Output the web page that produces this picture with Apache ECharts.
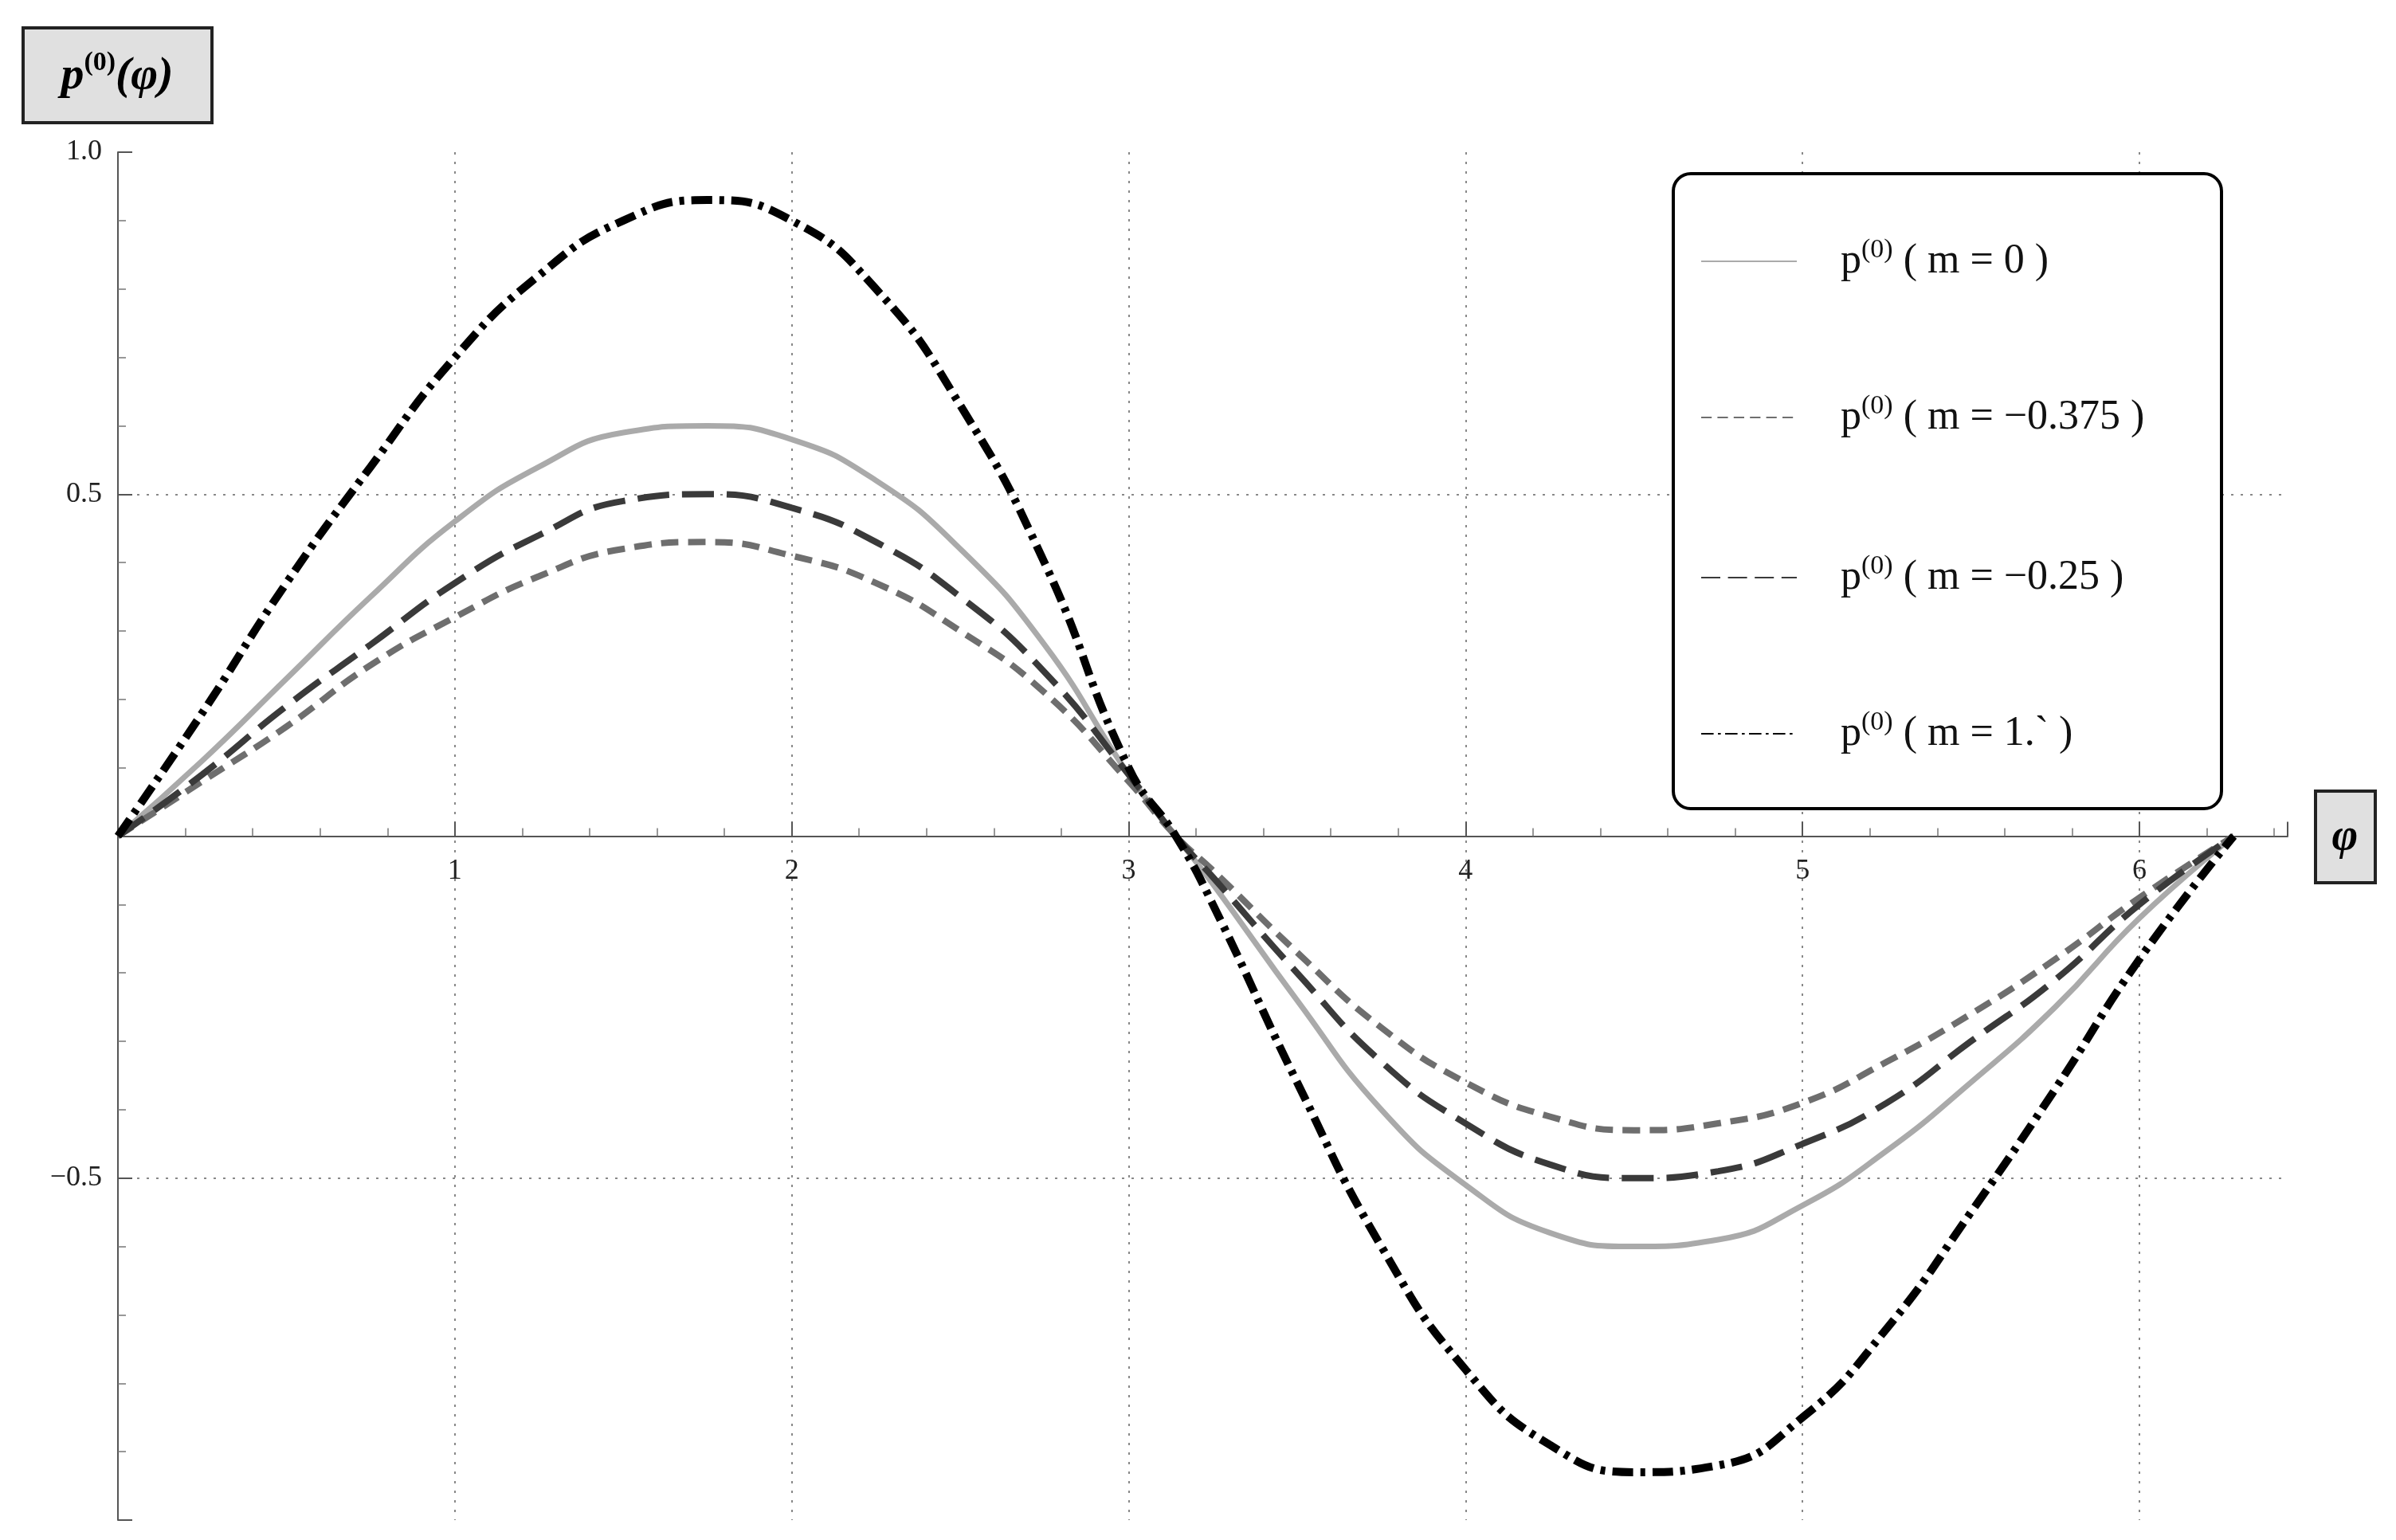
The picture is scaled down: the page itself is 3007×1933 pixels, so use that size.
<!DOCTYPE html>
<html>
<head>
<meta charset="utf-8">
<script src="https://cdn.jsdelivr.net/npm/echarts@6/dist/echarts.min.js"></script>
<style>
  html, body { margin: 0; padding: 0; background: #fff; }
  #chart { width: 3007px; height: 1933px; }
</style>
</head>
<body>
<div id="chart"></div>
<script>
// values
const phi = [0, 0.25, 0.5, 0.75, 1, 1.25, 1.5, 1.75, 2, 2.25, 2.5, 2.75, 3, 3.14,
  3.25, 3.5, 3.75, 4, 4.25, 4.5, 4.75, 5, 5.25, 5.5, 5.75, 6, 6.28];
const pM0 = [0, 0.11, 0.23, 0.35, 0.46, 0.54, 0.59, 0.60, 0.58, 0.52, 0.42, 0.28, 0.09, 0,
  -0.07, -0.24, -0.40, -0.51, -0.58, -0.60, -0.59, -0.54, -0.46, -0.36, -0.25, -0.12, 0];
const pM0375 = [0, 0.08, 0.16, 0.25, 0.32, 0.38, 0.42, 0.43, 0.41, 0.37, 0.30, 0.21, 0.08, 0,
  -0.05, -0.17, -0.28, -0.36, -0.41, -0.43, -0.42, -0.39, -0.33, -0.26, -0.18, -0.09, 0];
const pM025 = [0, 0.09, 0.19, 0.28, 0.37, 0.44, 0.49, 0.50, 0.48, 0.43, 0.35, 0.24, 0.09, 0,
  -0.06, -0.20, -0.33, -0.42, -0.48, -0.50, -0.49, -0.45, -0.39, -0.30, -0.21, -0.10, 0];
const pM1 = [0, 0.18, 0.37, 0.54, 0.70, 0.82, 0.90, 0.93, 0.90, 0.80, 0.63, 0.40, 0.10, 0,
  -0.10, -0.36, -0.60, -0.78, -0.89, -0.93, -0.92, -0.85, -0.72, -0.55, -0.37, -0.18, 0];
const legendLabels = ["( m = 0 )", "( m = \u22120.375 )", "( m = \u22120.25 )", "( m = 1.` )"];

const serif = "'Liberation Serif', 'DejaVu Serif', serif";
const pairs = ys => phi.map((x, i) => [x, ys[i]]);

const styles = [
  { color: "#aaaaaa", width: 7, type: "solid" },
  { color: "#6e6e6e", width: 8, type: [22, 12] },
  { color: "#3a3a3a", width: 8, type: [40, 16] },
  { color: "#000000", width: 10, type: [26, 9, 6, 9] }
];
const data = [pM0, pM0375, pM025, pM1];

let chart = echarts.init(document.getElementById("chart"));

const splitDotted = { show: true, showMinLine: false, showMaxLine: false, lineStyle: { color: "#888", type: [3, 9], width: 2 } };

let legendItems = [];
legendItems.push({
  type: "rect", shape: { x: 2100, y: 218, width: 688, height: 797, r: 22 },
  style: { fill: "#fff", stroke: "#000", lineWidth: 4 }, z: 10
});
const rowY = [328, 524, 725, 921];
legendLabels.forEach((lab, i) => {
  let s = styles[i];
  legendItems.push({
    type: "line", shape: { x1: 2135, y1: rowY[i], x2: 2255, y2: rowY[i] },
    style: { stroke: s.color, lineWidth: 2, lineDash: s.type === "solid" ? null : s.type.map(v => v * 0.6) }, z: 11
  });
  legendItems.push({
    type: "text", x: 2310, y: rowY[i], z: 11,
    style: {
      text: "{p|p}{s|(0)}{t| " + lab + "}",
      verticalAlign: "middle",
      rich: {
        p: { fontFamily: serif, fontSize: 52, fill: "#111" },
        s: { fontFamily: serif, fontSize: 34, fill: "#111", verticalAlign: "top", padding: [0, 0, 28, 0] },
        t: { fontFamily: serif, fontSize: 52, fill: "#111" }
      }
    }
  });
});

let option = {
  backgroundColor: "#fff",
  animation: false,
  grid: { left: 148, right: 136, top: 191, bottom: 25 },
  xAxis: {
    type: "value", min: 0, max: 6.44, interval: 1,
    offset: -858.5,
    axisLine: { onZero: false, lineStyle: { color: "#555", width: 2 } },
    axisTick: { show: true, inside: true, length: 18, lineStyle: { color: "#555", width: 2 } },
    minorTick: { show: true, splitNumber: 5, length: 10, lineStyle: { color: "#777", width: 1.5 } },
    splitLine: splitDotted,
    axisLabel: {
      fontFamily: serif, fontSize: 36, color: "#222", margin: 26,
      showMaxLabel: false,
      formatter: v => (v === 0 ? "" : String(v))
    }
  },
  yAxis: {
    type: "value", min: -1, max: 1, interval: 0.5,
    axisLine: { onZero: true, lineStyle: { color: "#555", width: 2 } },
    axisTick: { show: true, inside: true, length: 18, lineStyle: { color: "#555", width: 2 } },
    minorTick: { show: true, splitNumber: 5, length: 10, lineStyle: { color: "#777", width: 1.5 } },
    splitLine: splitDotted,
    axisLabel: {
      fontFamily: serif, fontSize: 36, color: "#222", margin: 20,
      formatter: v => {
        if (v === 1) return "1.0";
        if (v === 0.5) return "0.5";
        if (v === -0.5) return "\u22120.5";
        return "";
      }
    }
  },
  series: data.map((d, i) => ({
    type: "line", data: pairs(d), smooth: 0.5, showSymbol: false,
    lineStyle: { color: styles[i].color, width: styles[i].width, type: styles[i].type },
    z: 3 + i
  })),
  graphic: [
    {
      type: "rect", shape: { x: 29, y: 35, width: 237, height: 119 },
      style: { fill: "#e0e0e0", stroke: "#222", lineWidth: 4 }
    },
    {
      type: "text", x: 147, y: 96,
      style: {
        text: "{p|p}{s|(0)}{p|(\u03c6)}", align: "center", verticalAlign: "middle",
        rich: {
          p: { fontFamily: serif, fontSize: 58, fontWeight: "bold", fontStyle: "italic", fill: "#000" },
          s: { fontFamily: serif, fontSize: 34, fontWeight: "bold", fill: "#000", verticalAlign: "top", padding: [0, 0, 34, 0] }
        }
      }
    },
    {
      type: "rect", shape: { x: 2906, y: 993, width: 75, height: 115 },
      style: { fill: "#e0e0e0", stroke: "#222", lineWidth: 4 }
    },
    {
      type: "text", x: 2943, y: 1052,
      style: {
        text: "\u03c6", align: "center", verticalAlign: "middle",
        font: "italic bold 56px " + serif, fill: "#000"
      }
    }
  ].concat(legendItems)
};

chart.setOption(option);
</script>
</body>
</html>
